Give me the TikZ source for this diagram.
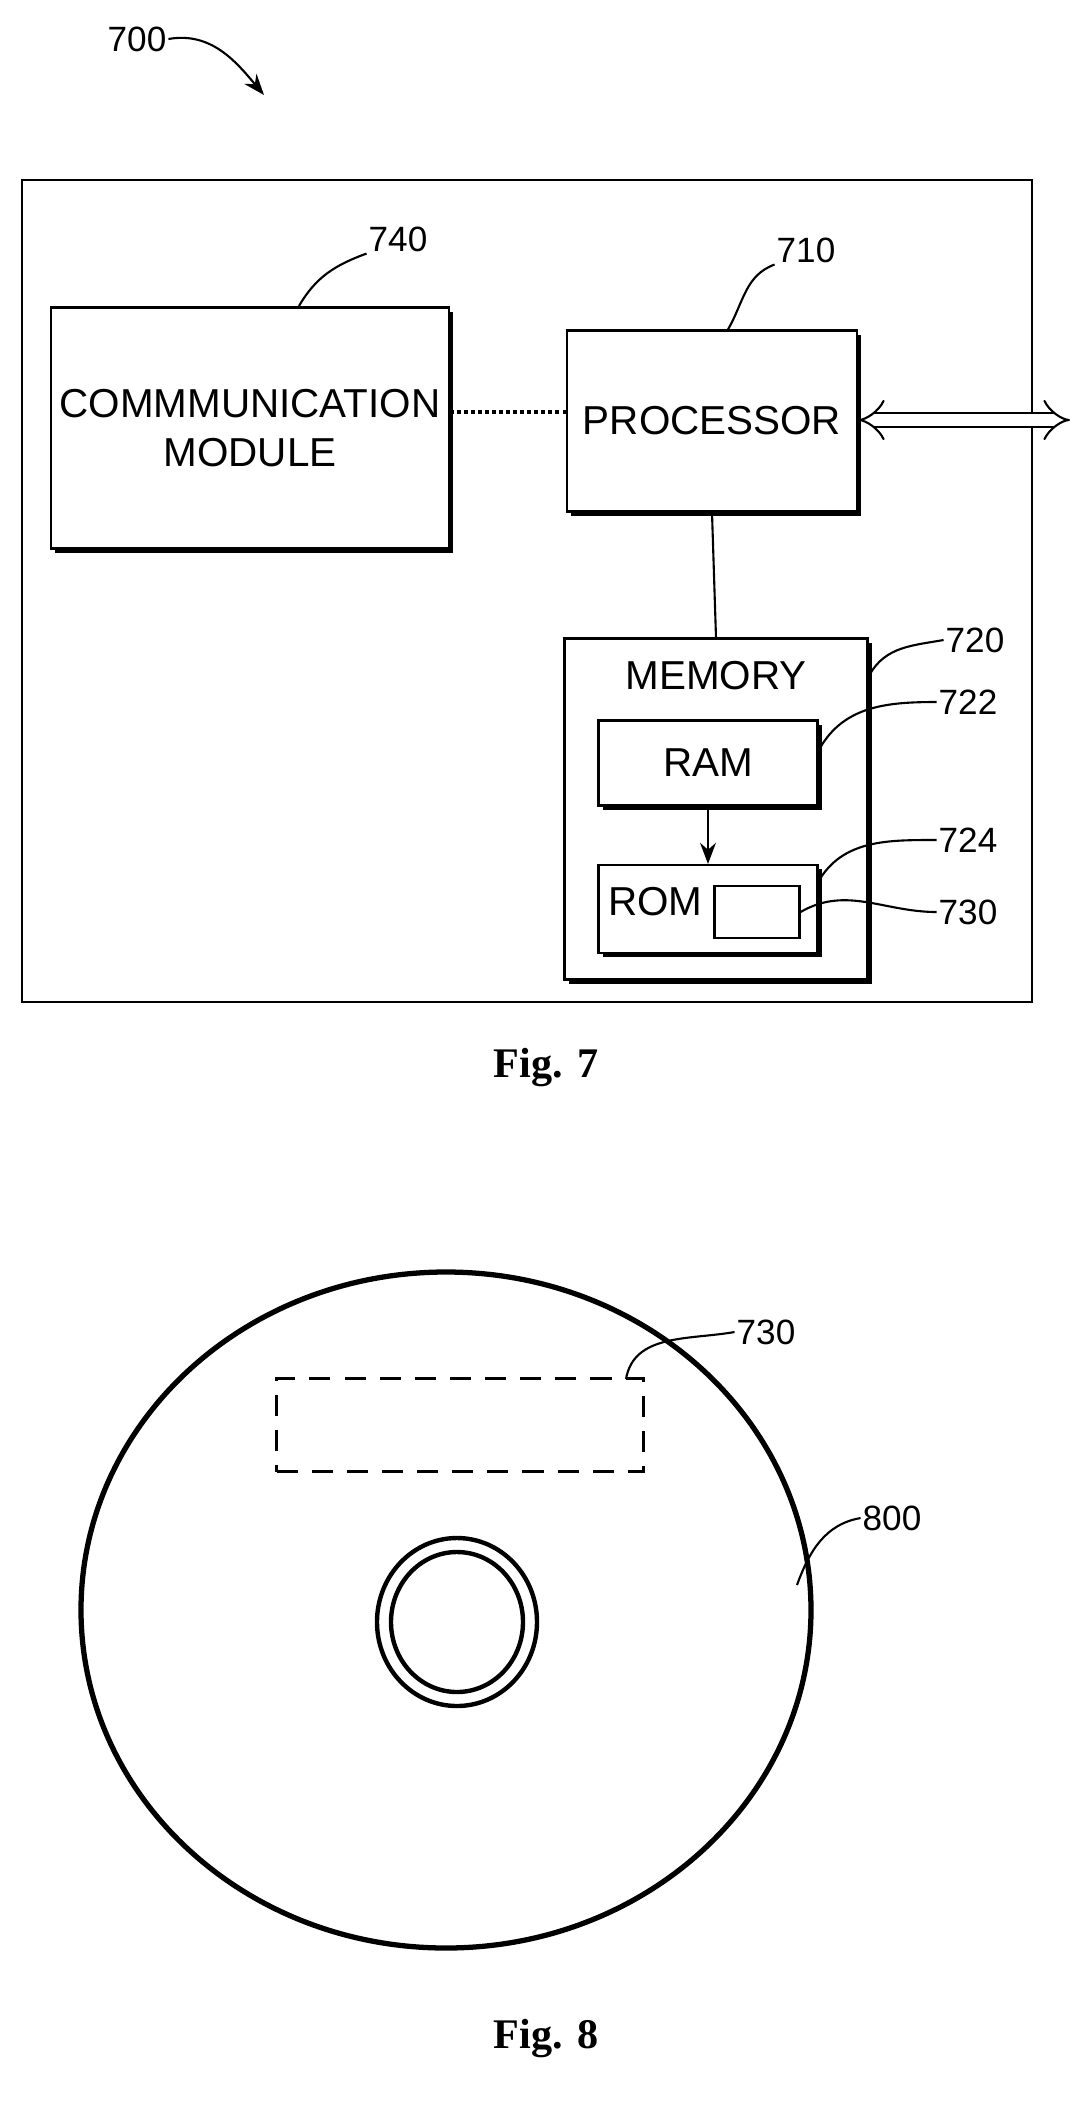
\documentclass[tikz,border=0pt]{standalone}
\usepackage{fontspec}
\setmainfont{Liberation Sans}
\newfontfamily\figfont{Liberation Serif}
\usetikzlibrary{calc,shapes,arrows,arrows.meta,shadows}

\tikzset{
  blk/.style={draw, very thick, fill=white, drop shadow={shadow xshift=2.5pt, shadow yshift=-2.5pt, fill=black, opacity=1}},
  lbl/.style={font=\fontsize{20}{22}\selectfont, inner sep=1pt},
  txt/.style={font=\fontsize{23}{28}\selectfont, align=center},
  lead/.style={very thick},
  figcap/.style={font=\figfont\bfseries\fontsize{24}{26}\selectfont}
}

\begin{document}
\begin{tikzpicture}[x=0.02cm,y=-0.02cm]
    \useasboundingbox (0,0) rectangle (1092,2104);

    % Fig. 7
    \node [lbl] (n700) at (137,39) {700};
    \draw [very thick, -{Stealth[length=12pt]}] (n700.east) to[out=10, in=130] (264,95);

    \draw [very thick] (22,180) rectangle (1032,1002);
    \node [blk, minimum width=398*0.02cm, minimum height=241*0.02cm] (comm) at (250,428) {};
    \node [txt] at (comm) {COMMMUNICATION\\MODULE};
    \node [blk, minimum width=290*0.02cm, minimum height=181*0.02cm] (proc) at (712,421) {};
    \node [txt] at (proc) {PROCESSOR};
    \node [blk, minimum width=303*0.02cm, minimum height=341*0.02cm] (mem) at (716,809) {};
    \node [txt] at (716,676) {MEMORY};
    \node [blk, minimum width=219*0.02cm, minimum height=85*0.02cm] (ram) at (708,763) {};
    \node [txt] at (ram) {RAM};
    \node [blk, minimum width=219*0.02cm, minimum height=88*0.02cm] (rom) at (708,909) {};
    \node [txt, anchor=west] at (602,902) {ROM};
    \node [draw, very thick, minimum width=85*0.02cm, minimum height=52*0.02cm] (sub) at (757,912) {};

    \draw [dotted, line width=2pt] (comm.east |- 0,412) -- (proc.west |- 0,412);
    \draw [very thick] (proc.south) -- (mem.north);
    \draw [very thick, -{Stealth[length=12pt]}] (ram.south) -- (rom.north);
    \coordinate (tip) at (1070,420);
    \draw [double, double distance=7pt, very thick, {Implies[length=8pt]}-{Implies[length=8pt]}] (proc.east |- tip) -- (tip);

    \node [lbl] (n740) at (398,239) {740};
    \draw [lead] (299,306) to[out=60, in=200] (n740.south west);
    \node [lbl] (n710) at (806,250) {710};
    \draw [lead] (proc.north) ++(16,0) to[out=60, in=200] (n710.south west);
    \node [lbl] (n720) at (975,640) {720};
    \draw [lead] (870,674) to[out=60, in=190] (n720.west);
    \node [lbl] (n722) at (968,702) {722};
    \draw [lead] (820,748) to[out=60, in=180] (n722.west);
    \node [lbl] (n724) at (968,840) {724};
    \draw [lead] (818,882) to[out=60, in=180] (n724.west);
    \node [lbl] (n730) at (968,912) {730};
    \draw [lead] (sub.east) to[out=30, in=180] (n730.west);

    \node [figcap] (fig7) at (546,1068) {Fig. 7};

    % Fig. 8
    \draw [line width=3pt] (446,1610) ellipse (365*0.02cm and 338*0.02cm);
    \draw [line width=2.5pt] (457,1622) ellipse (80*0.02cm and 84*0.02cm);
    \draw [line width=2.5pt] (457,1622) ellipse (66*0.02cm and 70*0.02cm);
    \node [draw, very thick, dash pattern=on 12pt off 8pt, minimum width=367*0.02cm, minimum height=93*0.02cm] (dash) at (460,1425) {};
    \node [lbl] (n730b) at (766,1332) {730};
    \draw [lead] (626,1379) to[out=80, in=190] (n730b.west);
    \node [lbl] (n800) at (892,1518) {800};
    \draw [lead] (797,1585) to[out=70, in=190] (n800.west);

    \node [figcap] (fig8) at (546,2038) {Fig. 8};
\end{tikzpicture}
\end{document}
